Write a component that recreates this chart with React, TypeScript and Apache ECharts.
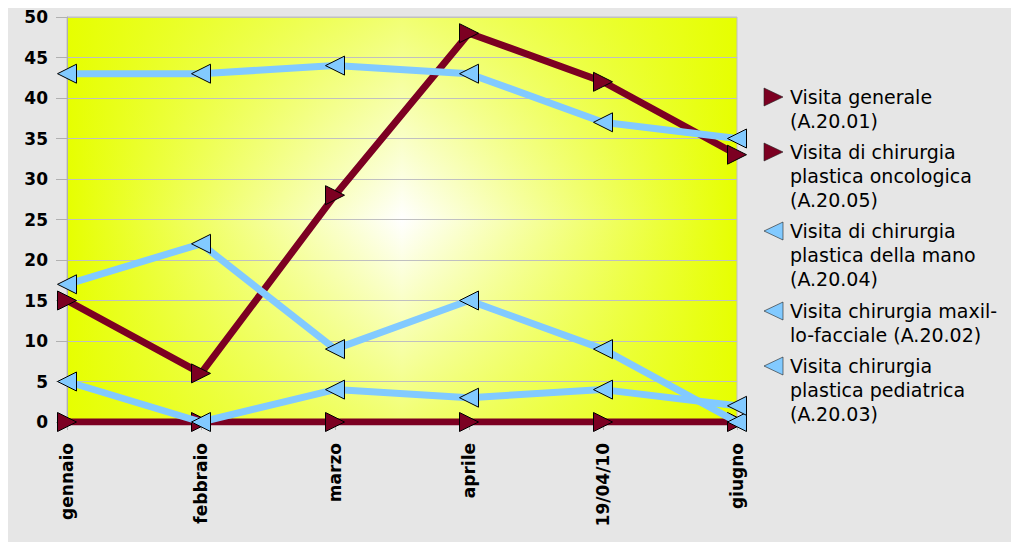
import React, { useEffect, useRef } from "react";
import * as echarts from "echarts";

const categories = ["gennaio", "febbraio", "marzo", "aprile", "19/04/10", "giugno"];
const seriesNames = [
  "Visita generale (A.20.01)",
  "Visita di chirurgia plastica oncologica (A.20.05)",
  "Visita di chirurgia plastica della mano (A.20.04)",
  "Visita chirurgia maxillo-facciale (A.20.02)",
  "Visita chirurgia plastica pediatrica (A.20.03)",
];
const legendLabels = [
  "Visita generale\n(A.20.01)",
  "Visita di chirurgia\nplastica oncologica\n(A.20.05)",
  "Visita di chirurgia\nplastica della mano\n(A.20.04)",
  "Visita chirurgia maxil-\nlo-facciale (A.20.02)",
  "Visita chirurgia\nplastica pediatrica\n(A.20.03)",
];
const generale = [15, 6, 28, 48, 42, 33];
const oncologica = [0, 0, 0, 0, 0, 0];
const mano = [43, 43, 44, 43, 37, 35];
const maxillo = [17, 22, 9, 15, 9, 0];
const pediatrica = [5, 0, 4, 3, 4, 2];
const seriesData = [generale, oncologica, mano, maxillo, pediatrica];

const RED = "#7c0022";
const BLUE = "#82caff";
const seriesColors = [RED, RED, BLUE, BLUE, BLUE];
const pointsRight = [true, true, false, false, false];

export default function App() {
  const ref = useRef<HTMLDivElement>(null);
  useEffect(() => {
    if (!ref.current) return;
    const chart = echarts.init(ref.current, null, { renderer: "svg" });
    const gx = 59, gy = 9, gw = 670, gh = 405;
    const legendY = [89, 144, 223, 303, 358];
    const legendGraphics: any[] = [];
    legendLabels.forEach((lbl, i) => {
      const cy = legendY[i];
      const right = pointsRight[i];
      legendGraphics.push({
        type: "polygon",
        z: 100,
        shape: {
          points: right
            ? [[756, cy - 9], [775, cy], [756, cy + 9]]
            : [[775, cy - 9], [756, cy], [775, cy + 9]],
        },
        style: { fill: seriesColors[i], stroke: "#222", lineWidth: 0.6 },
      });
      legendGraphics.push({
        type: "text",
        z: 100,
        x: 782,
        y: cy - 12,
        style: {
          text: lbl,
          font: '19px "DejaVu Sans"',
          fill: "#000",
          lineHeight: 24,
          verticalAlign: "top",
          align: "left",
        },
      });
    });
    chart.setOption({
      animation: false,
      grid: {
        left: gx,
        top: gy,
        width: gw,
        height: gh,
        show: true,
        backgroundColor: "transparent",
        borderColor: "#c0c0c0",
        borderWidth: 1,
      },
      graphic: [
        {
          type: "rect",
          z: -10,
          shape: { x: gx, y: gy, width: gw, height: gh },
          style: {
            fill: new echarts.graphic.LinearGradient(0, 0, 1, 0, [
              { offset: 0, color: "#e6ff00" },
              { offset: 0.5, color: "#ffffff" },
              { offset: 1, color: "#e6ff00" },
            ]),
          },
        },
        {
          type: "rect",
          z: -9,
          shape: { x: gx, y: gy, width: gw, height: gh },
          style: {
            fill: new echarts.graphic.LinearGradient(0, 0, 0, 1, [
              { offset: 0, color: "rgba(230,255,0,0.55)" },
              { offset: 0.5, color: "rgba(230,255,0,0)" },
              { offset: 1, color: "rgba(230,255,0,0.55)" },
            ]),
          },
        },
        ...legendGraphics,
      ],
      xAxis: {
        type: "category",
        data: categories,
        boundaryGap: false,
        axisLine: { show: true, lineStyle: { color: "#b0b0b0", width: 1 } },
        axisTick: { show: true, length: 8, lineStyle: { color: "#b0b0b0" } },
        axisLabel: {
          rotate: 90,
          margin: 21,
          color: "#000",
          fontFamily: "DejaVu Sans",
          fontWeight: "bold",
          fontSize: 17,
        },
        splitLine: { show: false },
      },
      yAxis: {
        type: "value",
        min: 0,
        max: 50,
        interval: 5,
        axisLine: { show: true, lineStyle: { color: "#b0b0b0", width: 1 } },
        axisTick: { show: true, length: 11, lineStyle: { color: "#b0b0b0" } },
        axisLabel: {
          margin: 19,
          color: "#000",
          fontFamily: "DejaVu Sans",
          fontWeight: "bold",
          fontSize: 17,
        },
        splitLine: { show: true, lineStyle: { color: "#c0c0c0", width: 1 } },
      },
      series: seriesNames.map((name, i) => ({
        name,
        type: "line",
        data: seriesData[i],
        symbol: "triangle",
        symbolSize: [19, 19],
        symbolRotate: pointsRight[i] ? -90 : 90,
        showSymbol: true,
        lineStyle: { color: seriesColors[i], width: 7 },
        itemStyle: { color: seriesColors[i], borderColor: "#000", borderWidth: 1 },
        z: 2 + i,
      })),
    });
    return () => chart.dispose();
  }, []);
  return (
    <div
      ref={ref}
      style={{ width: 1011, height: 534, background: "#e6e6e6" }}
    />
  );
}
